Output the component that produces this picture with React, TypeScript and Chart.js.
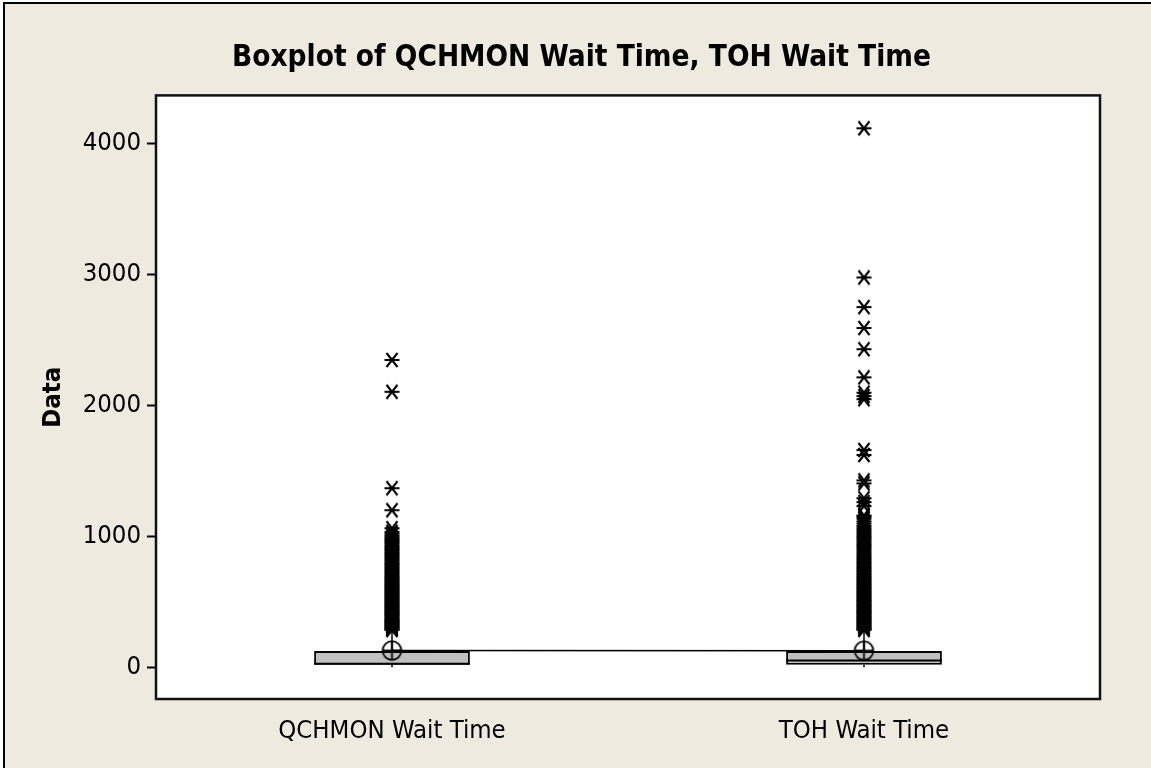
import React, { useEffect, useRef } from 'react';
import { Chart, registerables } from 'chart.js';

Chart.register(...registerables);

// ---- data ----
const categories = ['QCHMON Wait Time', 'TOH Wait Time'];
const categoryPositions = [1, 2];
const q1Values = [20, 20];
const medianValues = [27, 52];
const q3Values = [125, 125];
const whiskerLowValues = [0, 0];
const whiskerHighValues = [270, 270];
const meanValues = [128, 127];
const qchmonOutliers = [
  285, 292, 300, 308, 315, 322, 330, 340, 347, 355, 362, 370, 381, 390, 398, 405, 415, 423,
  432, 440, 450, 458, 466, 475, 485, 493, 502, 512, 520, 530, 540, 548, 557, 566, 575, 585,
  595, 603, 612, 622, 632, 640, 650, 660, 670, 680, 690, 700, 712, 722, 733, 745, 756, 768,
  780, 790, 802, 815, 826, 838, 850, 862, 873, 885, 897, 908, 920, 932, 945, 957, 968, 980,
  992, 1005, 1020, 1035, 1062, 1200, 1368, 2105, 2348,
];
const tohOutliers = [
  285, 293, 301, 309, 318, 326, 335, 343, 352, 361, 370, 378, 387, 396, 405, 414, 423, 432,
  441, 450, 460, 469, 478, 488, 497, 507, 516, 526, 536, 545, 555, 565, 575, 585, 595, 605,
  615, 626, 636, 647, 657, 668, 679, 690, 701, 713, 724, 736, 748, 760, 772, 784, 797, 810,
  823, 836, 850, 864, 878, 892, 906, 920, 934, 948, 962, 976, 990, 1003, 1018, 1033, 1048,
  1063, 1080, 1098, 1115, 1135, 1150, 1160, 1232, 1262, 1292, 1405, 1428, 1622, 1660, 2048,
  2072, 2098, 2215, 2430, 2592, 2752, 2978, 4118,
];
const outlierSets = [qchmonOutliers, tohOutliers];
const yTickValues = [0, 1000, 2000, 3000, 4000];
const yMin = -242;
const yMax = 4369;
const titleText = 'Boxplot of QCHMON Wait Time, TOH Wait Time';
const yTitleText = 'Data';

// ---- styles ----
const BOX_HALF = 0.165;
const FONT = "'DejaVu Sans Condensed', 'DejaVu Sans', Tahoma, sans-serif";
const BG = '#EEEAE0';

function makeAsterisk(): HTMLCanvasElement {
  const c = document.createElement('canvas');
  c.width = 18;
  c.height = 18;
  const g = c.getContext('2d')!;
  g.strokeStyle = '#000';
  g.lineWidth = 2.1;
  const cx = 9, cy = 9;
  g.beginPath();
  g.moveTo(cx - 7.5, cy); g.lineTo(cx + 7.5, cy);
  g.moveTo(cx - 5.5, cy - 7); g.lineTo(cx + 5.5, cy + 7);
  g.moveTo(cx + 5.5, cy - 7); g.lineTo(cx - 5.5, cy + 7);
  g.stroke();
  return c;
}

function makeMeanSymbol(): HTMLCanvasElement {
  const c = document.createElement('canvas');
  c.width = 23;
  c.height = 23;
  const g = c.getContext('2d')!;
  g.strokeStyle = '#000';
  g.lineWidth = 1.8;
  const cx = 11.5, cy = 11.5, r = 9.3;
  g.beginPath();
  g.arc(cx, cy, r, 0, Math.PI * 2);
  g.moveTo(cx - r, cy); g.lineTo(cx + r, cy);
  g.moveTo(cx, cy - r); g.lineTo(cx, cy + r);
  g.stroke();
  return c;
}

const areaPlugin = {
  id: 'areaPlugin',
  beforeDatasetsDraw(chart: any) {
    const { ctx, chartArea: a } = chart;
    ctx.save();
    ctx.fillStyle = '#FFFFFF';
    ctx.fillRect(a.left, a.top, a.right - a.left, a.bottom - a.top);
    ctx.restore();
  },
  afterDraw(chart: any) {
    const { ctx, chartArea: a } = chart;
    ctx.save();
    ctx.strokeStyle = '#111';
    ctx.lineWidth = 2.5;
    ctx.strokeRect(a.left, a.top, a.right - a.left, a.bottom - a.top);
    ctx.restore();
  },
};

export default function App() {
  const ref = useRef<HTMLCanvasElement>(null);

  useEffect(() => {
    if (!ref.current) return;
    const asterisk = makeAsterisk();
    const meanSym = makeMeanSymbol();

    const whiskerDatasets = categoryPositions.flatMap((p, i) => [
      [q3Values[i], whiskerHighValues[i]],
      [q1Values[i], whiskerLowValues[i]],
    ].map((w) => ({
      type: 'line' as const,
      data: [{ x: p, y: w[0] }, { x: p, y: w[1] }],
      borderColor: '#000',
      borderWidth: 1.5,
      pointRadius: 0,
      order: 6,
    })));

    const medianDatasets = categoryPositions.map((p, i) => ({
      type: 'line' as const,
      data: [{ x: p - BOX_HALF, y: medianValues[i] }, { x: p + BOX_HALF, y: medianValues[i] }],
      borderColor: '#000',
      borderWidth: 2,
      pointRadius: 0,
      order: 3,
    }));

    const outlierDatasets = categoryPositions.map((p, i) => ({
      type: 'line' as const,
      data: outlierSets[i].map((v) => ({ x: p, y: v })),
      showLine: false,
      pointStyle: asterisk,
      pointRadius: 9,
      borderColor: '#000',
      order: 0,
    }));

    const chart = new Chart(ref.current, {
      type: 'bar',
      data: {
        datasets: [
          {
            type: 'bar',
            data: categoryPositions.map((p, i) => ({ x: p, y: [q1Values[i], q3Values[i]] })) as any,
            backgroundColor: '#C0C0C0',
            borderColor: '#000',
            borderWidth: 2,
            borderSkipped: false,
            barPercentage: 0.33,
            categoryPercentage: 1,
            order: 4,
          } as any,
          ...whiskerDatasets,
          ...medianDatasets,
          {
            type: 'line',
            data: categoryPositions.map((p, i) => ({ x: p, y: meanValues[i] })),
            borderColor: '#000',
            borderWidth: 1.5,
            pointRadius: 0,
            order: 2,
          },
          {
            type: 'line',
            data: categoryPositions.map((p, i) => ({ x: p, y: meanValues[i] })),
            showLine: false,
            pointStyle: meanSym,
            pointRadius: 11,
            order: 1,
          } as any,
          ...outlierDatasets,
        ] as any,
      },
      options: {
        responsive: false,
        animation: false,
        devicePixelRatio: 1,
        layout: { padding: { left: 12, top: 0, right: 0, bottom: 0 } },
        plugins: {
          legend: { display: false },
          tooltip: { enabled: false },
          title: {
            display: true,
            text: titleText,
            color: '#000',
            font: { family: FONT, size: 29.5, weight: 'bold' },
            padding: { top: 41, bottom: 19 },
          },
        },
        scales: {
          x: {
            type: 'linear',
            min: 0.5,
            max: 2.5,
            offset: false,
            afterBuildTicks: (s: any) => {
              s.ticks = categoryPositions.map((v) => ({ value: v }));
            },
            afterFit: (s: any) => {
              s.height = 69;
            },
            grid: { display: false },
            border: { display: false },
            ticks: {
              autoSkip: false,
              maxRotation: 0,
              color: '#000',
              padding: 9,
              font: { family: FONT, size: 25.5 },
              callback: (v: any) => {
                const i = categoryPositions.indexOf(Number(v));
                return i >= 0 ? categories[i] : '';
              },
            },
          },
          y: {
            type: 'linear',
            min: yMin,
            max: yMax,
            afterBuildTicks: (s: any) => {
              s.ticks = yTickValues.map((v) => ({ value: v }));
            },
            afterFit: (s: any) => {
              s.width = 144;
            },
            grid: {
              drawOnChartArea: false,
              tickLength: 9,
              tickColor: '#000',
              tickWidth: 2,
            },
            border: { display: false },
            ticks: {
              color: '#000',
              padding: 6,
              font: { family: FONT, size: 25.5 },
              callback: (v: any) => String(v),
            },
            title: {
              display: true,
              text: yTitleText,
              color: '#000',
              font: { family: FONT, size: 25.5, weight: 'bold' },
              padding: { top: 26, bottom: 0 },
            },
          },
          yRight: {
            type: 'linear',
            position: 'right',
            display: true,
            afterFit: (s: any) => {
              s.width = 51;
            },
            grid: { display: false },
            border: { display: false },
            ticks: { display: false },
          },
        },
      } as any,
      plugins: [areaPlugin],
    });
    return () => chart.destroy();
  }, []);

  return (
    <div style={{ position: 'fixed', left: 0, top: 0, width: 1151, height: 768, background: '#fff', overflow: 'hidden' }}>
      <div
        style={{
          position: 'absolute',
          left: 3,
          top: 2,
          width: 1170,
          height: 790,
          background: BG,
          borderLeft: '2px solid #000',
          borderTop: '2px solid #000',
        }}
      />
      <canvas ref={ref} width={1151} height={768} style={{ position: 'absolute', left: 0, top: 0, display: 'block' }} />
    </div>
  );
}
